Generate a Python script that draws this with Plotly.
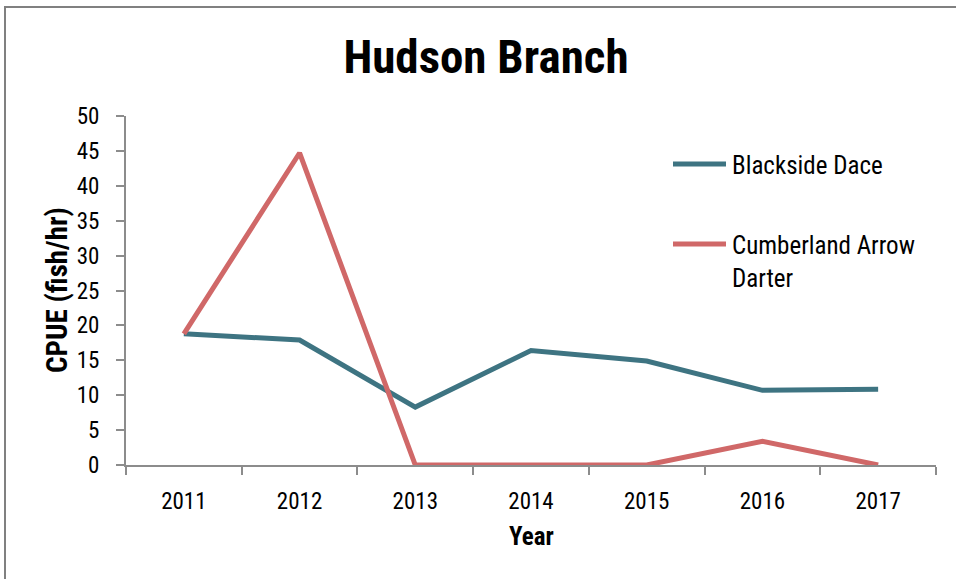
import plotly.graph_objects as go

years = ["2011", "2012", "2013", "2014", "2015", "2016", "2017"]
blackside_dace = [18.8, 17.9, 8.3, 16.4, 14.9, 10.7, 10.85]
cumberland_arrow_darter = [18.8, 44.7, 0, 0, 0, 3.4, 0]
series_names = ["Blackside Dace", "Cumberland Arrow<br>Darter"]
series_colors = ["#3E7482", "#D06868"]

FONT = "Liberation Sans Narrow, Arial Narrow, Roboto Condensed, Liberation Sans, sans-serif"
AXIS_GREY = "#8C8C8C"

fig = go.Figure()
for name, vals, color in zip(series_names, [blackside_dace, cumberland_arrow_darter], series_colors):
    fig.add_trace(go.Scatter(
        x=years, y=vals, mode="lines", name=name.replace("<br>", " "),
        line=dict(color=color, width=5), showlegend=False,
    ))

# plot area occupies 126..936 px horizontally and 116..465 px vertically
L, R, T, B = 126, 20, 116, 114
W, H = 956, 579
pw, ph = W - L - R, H - T - B


def px_x(px):
    return (px - L) / pw


def px_y(py):
    return (H - B - py) / ph


shapes = [
    # outer frame around the chart
    dict(type="rect", xref="paper", yref="paper",
         x0=px_x(5), x1=px_x(962), y0=px_y(585), y1=px_y(7),
         line=dict(color="#808080", width=2), layer="below"),
]
annotations = []

# hand-placed legend
legend_rows = [164, 244]
for name, color, ly in zip(series_names, series_colors, legend_rows):
    shapes.append(dict(type="line", xref="paper", yref="paper",
                       x0=px_x(673), x1=px_x(726), y0=px_y(ly), y1=px_y(ly),
                       line=dict(color=color, width=5)))
    annotations.append(dict(xref="paper", yref="paper", x=px_x(730), y=px_y(ly - 15),
                            xanchor="left", yanchor="top", align="left",
                            text=name, showarrow=False,
                            font=dict(family=FONT, size=25, color="#000000")))

# axis titles
annotations.append(dict(xref="paper", yref="paper", x=px_x(531), y=px_y(536),
                        xanchor="center", yanchor="middle", text="<b>Year</b>",
                        showarrow=False, font=dict(family=FONT, size=25, color="#000000")))
annotations.append(dict(xref="paper", yref="paper", x=px_x(57), y=px_y(290),
                        xanchor="center", yanchor="middle", text="<b>CPUE (fish/hr)</b>",
                        textangle=-90, showarrow=False,
                        font=dict(family=FONT, size=29, color="#000000")))

fig.update_layout(
    width=W, height=H,
    margin=dict(l=L, r=R, t=T, b=B),
    paper_bgcolor="white", plot_bgcolor="white",
    title=dict(text="<b>Hudson Branch</b>", x=486 / W, y=1 - 57 / H,
               xanchor="center", yanchor="middle",
               font=dict(family=FONT, size=47, color="#000000")),
    font=dict(family=FONT, size=23, color="#000000"),
    shapes=shapes, annotations=annotations,
    showlegend=False,
)
fig.update_xaxes(
    type="category", range=[-0.5, 6.5], showgrid=False, zeroline=False,
    showline=True, linecolor=AXIS_GREY, linewidth=2,
    ticks="outside", tickson="boundaries", ticklen=8, tickwidth=2, tickcolor=AXIS_GREY,
    tickfont=dict(family=FONT, size=23, color="#000000"), ticklabelstandoff=14,
)
fig.update_yaxes(
    range=[0, 50], dtick=5, tick0=0, showgrid=False, zeroline=False,
    showline=True, linecolor=AXIS_GREY, linewidth=2,
    ticks="outside", ticklen=8, tickwidth=2, tickcolor=AXIS_GREY,
    tickfont=dict(family=FONT, size=23, color="#000000"), ticklabelstandoff=12,
)

fig.write_html("out.html")
